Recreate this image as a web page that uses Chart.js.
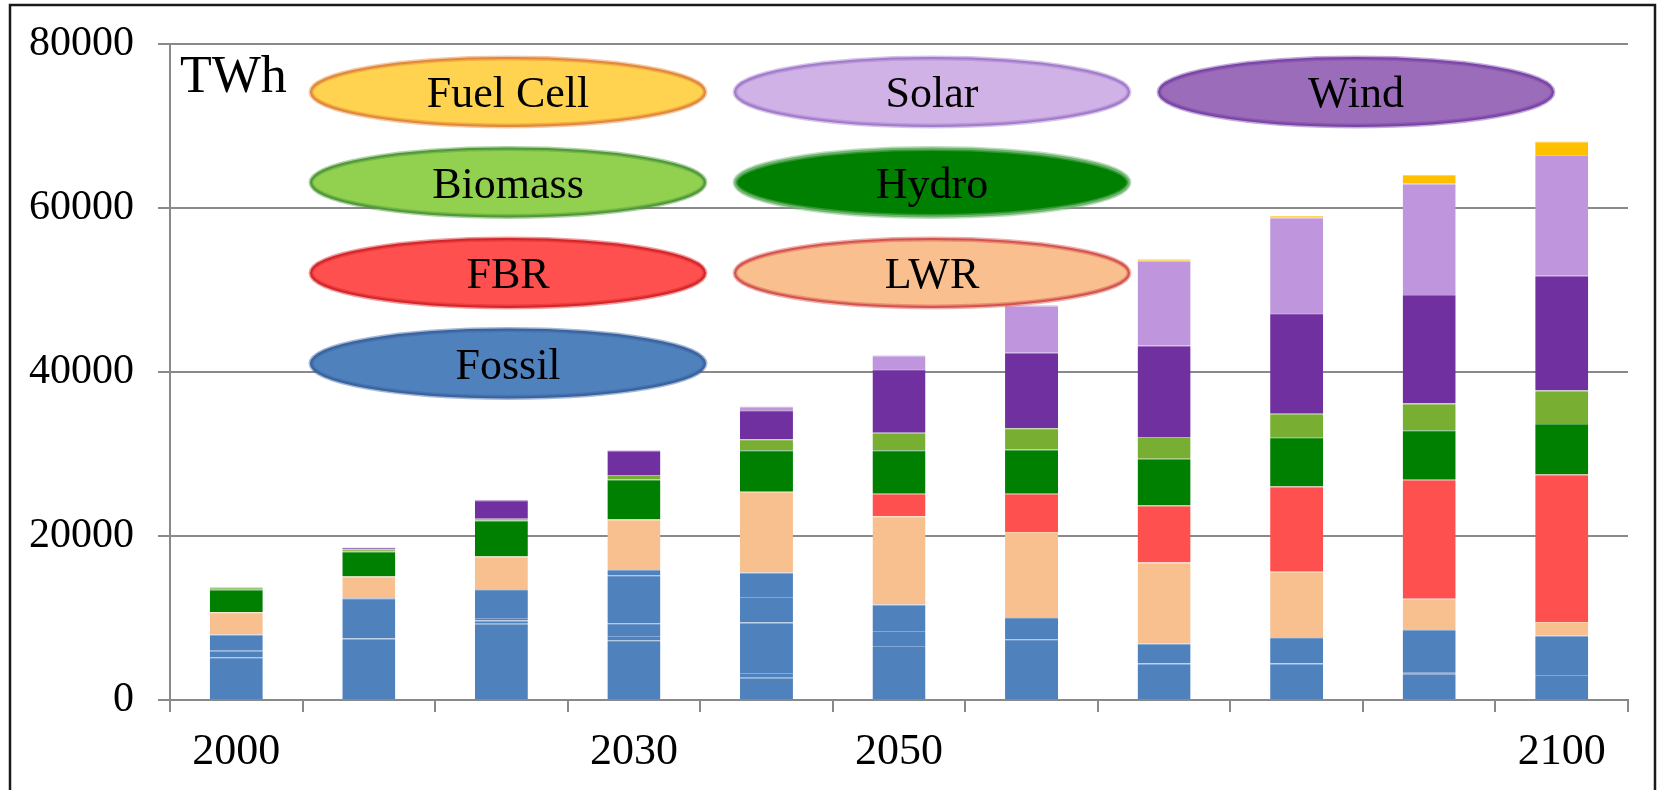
<!DOCTYPE html>
<html>
<head>
<meta charset="utf-8">
<script src="https://cdn.jsdelivr.net/npm/chart.js@4.4.1/dist/chart.umd.min.js"></script>
<style>
  html, body { margin: 0; padding: 0; background: #ffffff; }
  #wrap { width: 1658px; height: 790px; position: relative; }
  canvas { display: block; }
</style>
</head>
<body>
<div id="wrap"><canvas id="chart" width="1658" height="790"></canvas></div>
<script>
// Electricity generation by source, TWh
const years = ['2000', '2010', '2020', '2030', '2040', '2050', '2060', '2070', '2080', '2090', '2100'];
const tickLabels = ['2000', '', '', '2030', '', '2050', '', '', '', '', '2100'];
const yTicks = [0, 20000, 40000, 60000, 80000];

// Fossil output, split into its stacked sub-segments
const fossilParts = [
  [5200, 7500, 9300, 7300, 2700, 6600, 7400, 4450, 4450, 3200, 3050],
  [800, 4900, 400, 500, 600, 1800, 2700, 2450, 3200, 200, 4800],
  [2000, 0, 300, 1550, 6150, 3250, 0, 0, 0, 5150, 0],
  [0, 0, 3500, 5850, 3100, 0, 0, 0, 0, 0, 0],
  [0, 0, 0, 650, 3000, 0, 0, 0, 0, 0, 0]
];
const lwr      = [2700, 2650, 4000, 6150, 9850, 10750, 10400, 9870, 8000, 3800, 1650];
const fbr      = [0, 0, 0, 0, 0, 2750, 4650, 6950, 10400, 14500, 18000];
const hydro    = [2750, 3050, 4400, 4900, 5050, 5300, 5400, 5700, 6000, 6050, 6150];
const biomass  = [200, 290, 200, 530, 1350, 2150, 2600, 2650, 2850, 3250, 4100];
const wind     = [80, 160, 2250, 3000, 3550, 7750, 9200, 11150, 12250, 13250, 14000];
const solar    = [0, 40, 60, 40, 450, 1650, 5700, 10350, 11650, 13550, 14700];
const fuelCell = [0, 0, 0, 0, 0, 60, 100, 170, 240, 1090, 1660];

const FONT = '"Liberation Serif", "DejaVu Serif", serif';

// Segment fill and its lighter edge line
const barColors = {
  'Fossil':    ['#4f81bd', '#86a7d1'],
  'LWR':       ['#f9c08f', '#fbd4b2'],
  'FBR':       ['#ff5050', '#ff8585'],
  'Hydro':     ['#008000', '#4da64d'],
  'Biomass':   ['#78af32', '#a0c775'],
  'Wind':      ['#7030a0', '#9a6cbd'],
  'Solar':     ['#bf95dd', '#d6bce9'],
  'Fuel Cell': ['#ffc000', '#ffd34d']
};

// Oval legend badges: fill, edge colour, grid column and row
const badges = [
  { name: 'Fuel Cell', fill: '#ffd34f', edge: '#e3873a', col: 0, row: 0 },
  { name: 'Solar',     fill: '#d1b2e6', edge: '#a27ccb', col: 1, row: 0 },
  { name: 'Wind',      fill: '#9b6cb9', edge: '#7b45a8', col: 2, row: 0 },
  { name: 'Biomass',   fill: '#92d050', edge: '#50993a', col: 0, row: 1 },
  { name: 'Hydro',     fill: '#008000', edge: '#6fb46f', col: 1, row: 1 },
  { name: 'FBR',       fill: '#ff5050', edge: '#d6262a', col: 0, row: 2 },
  { name: 'LWR',       fill: '#f9bf8f', edge: '#d5534e', col: 1, row: 2 },
  { name: 'Fossil',    fill: '#4f81bd', edge: '#3a63a0', col: 0, row: 3 }
];

function seg(label, data) {
  const [fill, edge] = barColors[label];
  return {
    label: label,
    data: data,
    backgroundColor: fill,
    borderColor: edge,
    borderWidth: { top: 1, bottom: 0, left: 0, right: 0 },
    borderSkipped: false,
    inflateAmount: 0,
    stack: 'total'
  };
}

const datasets = [];
fossilParts.forEach(part => datasets.push(seg('Fossil', part)));
datasets.push(seg('LWR', lwr));
datasets.push(seg('FBR', fbr));
datasets.push(seg('Hydro', hydro));
datasets.push(seg('Biomass', biomass));
datasets.push(seg('Wind', wind));
datasets.push(seg('Solar', solar));
datasets.push(seg('Fuel Cell', fuelCell));

// Outer frame drawn behind everything
const framePlugin = {
  id: 'frame',
  beforeDraw(chart) {
    const ctx = chart.ctx;
    ctx.save();
    ctx.strokeStyle = '#1a1a1a';
    ctx.lineWidth = 2.5;
    ctx.beginPath();
    ctx.moveTo(10, 795);
    ctx.lineTo(10, 5);
    ctx.lineTo(1655, 5);
    ctx.lineTo(1655, 795);
    ctx.stroke();
    ctx.restore();
  }
};

// Unit caption and oval legend badges, painted over the bars
const badgePlugin = {
  id: 'badges',
  afterDatasetsDraw(chart) {
    const ctx = chart.ctx;
    const area = chart.chartArea;
    ctx.save();
    ctx.fillStyle = '#000';
    ctx.font = '52px ' + FONT;
    ctx.textAlign = 'left';
    ctx.textBaseline = 'alphabetic';
    ctx.fillText('TWh', area.left + 10, 92);

    const x0 = area.left + 338, dx = 424;
    const y0 = 92, dy = 90.5;
    const rx = 197, ry = 34;
    badges.forEach(b => {
      const cx = x0 + b.col * dx;
      const cy = y0 + b.row * dy;
      ctx.beginPath();
      ctx.ellipse(cx, cy, rx, ry, 0, 0, Math.PI * 2);
      ctx.fillStyle = b.fill;
      ctx.fill();
      ctx.globalAlpha = 0.45;
      ctx.lineWidth = 5;
      ctx.strokeStyle = b.edge;
      ctx.stroke();
      ctx.globalAlpha = 1;
      ctx.lineWidth = 2;
      ctx.stroke();
      ctx.fillStyle = '#000';
      ctx.font = '44px ' + FONT;
      ctx.textAlign = 'center';
      ctx.textBaseline = 'alphabetic';
      ctx.fillText(b.name, cx, cy + 15);
    });
    ctx.restore();
  }
};

new Chart(document.getElementById('chart'), {
  type: 'bar',
  data: { labels: years, datasets: datasets },
  options: {
    responsive: false,
    animation: false,
    devicePixelRatio: 1,
    layout: { padding: { left: 0, right: 30, top: 44, bottom: 0 } },
    datasets: { bar: { barPercentage: 0.4, categoryPercentage: 1.0 } },
    plugins: { legend: { display: false }, tooltip: { enabled: false } },
    scales: {
      x: {
        stacked: true,
        afterFit(scale) { scale.height = 90; },
        grid: {
          offset: true,
          drawOnChartArea: false,
          drawTicks: true,
          tickLength: 12,
          color: '#898989',
          lineWidth: 2
        },
        border: { display: true, color: '#898989', width: 2 },
        ticks: {
          autoSkip: false,
          maxRotation: 0,
          padding: 14,
          color: '#000',
          font: { family: FONT, size: 44 },
          callback: (v, i) => tickLabels[i]
        }
      },
      y: {
        stacked: true,
        min: 0,
        max: 80000,
        afterFit(scale) {
          scale.width = 170;
          scale.paddingTop = 0;
          scale.paddingBottom = 0;
        },
        afterBuildTicks(scale) { scale.ticks = yTicks.map(v => ({ value: v })); },
        grid: {
          color: '#898989',
          lineWidth: 2,
          drawTicks: true,
          tickLength: 12
        },
        border: { display: true, color: '#898989', width: 2 },
        ticks: {
          padding: 24,
          color: '#000',
          font: { family: FONT, size: 42 },
          callback: v => String(v)
        }
      }
    }
  },
  plugins: [framePlugin, badgePlugin]
});
</script>
</body>
</html>
